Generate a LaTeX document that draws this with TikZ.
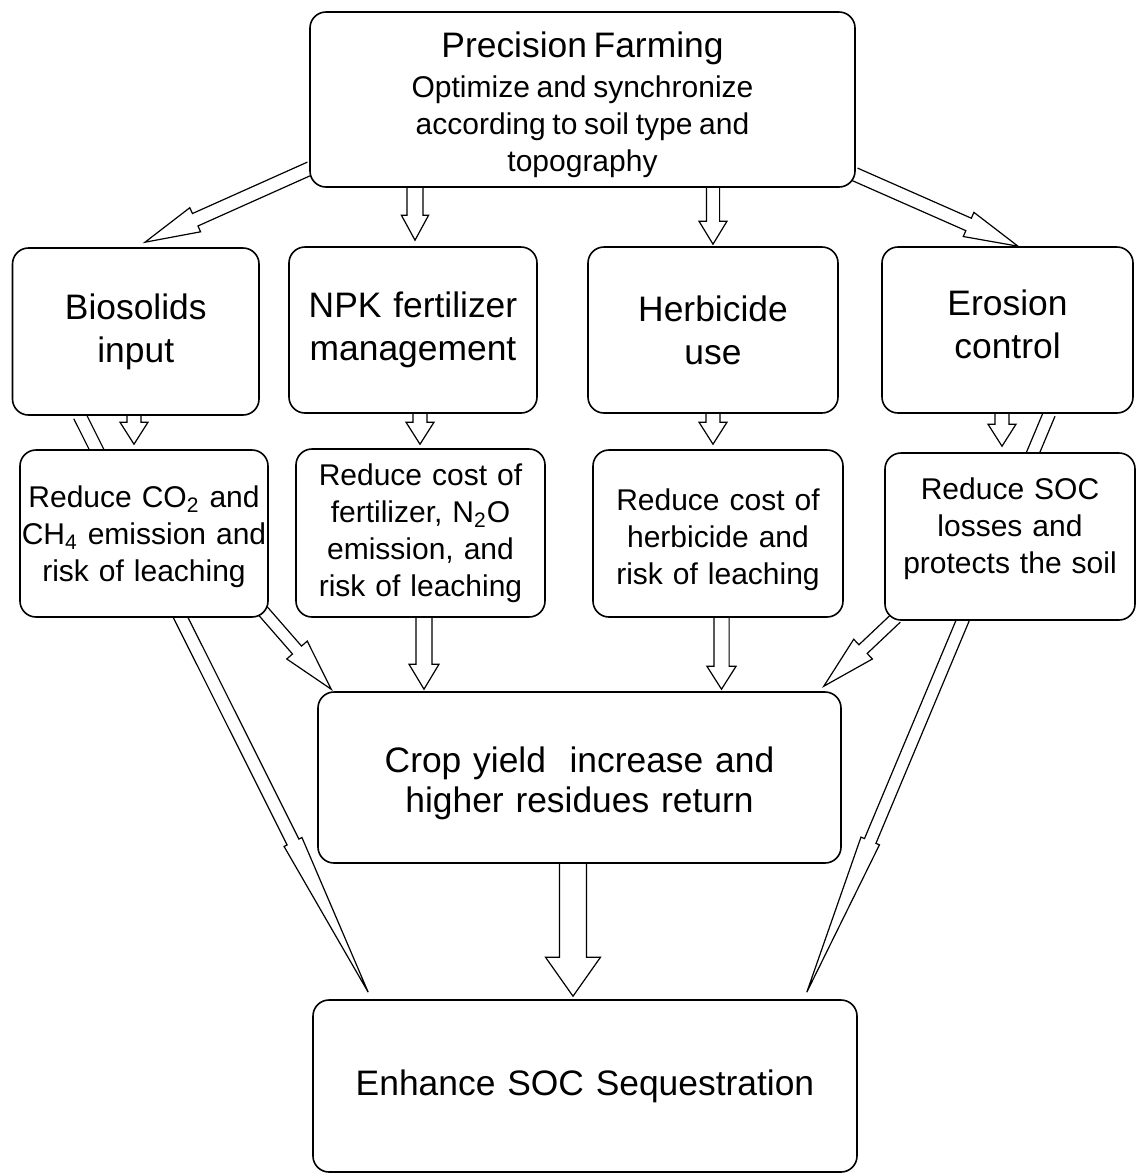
\documentclass[tikz,border=0pt]{standalone}
\usepackage{fontspec}
\setmainfont{Liberation Sans}
\usetikzlibrary{calc,backgrounds}

\tikzset{
  box/.style={draw=black, line width=0.8pt, rounded corners=8pt, fill=white,
    inner xsep=0pt, inner ysep=0pt, align=center},
  harrow/.style={draw=black, line width=0.6pt, fill=white, line join=miter},
  big/.style={font=\fontsize{17.7pt}{21.5pt}\selectfont},
  small/.style={font=\fontsize{15pt}{18.5pt}\selectfont},
}

% hollow block arrow: start, end, shaft half width, head half width, head length
\newcommand{\blockarrow}[5]{%
  \coordinate (ba-s) at (#1);
  \coordinate (ba-e) at (#2);
  \coordinate (ba-h) at ($(ba-e)!#5!(ba-s)$);
  \draw[harrow] ($(ba-s)!#3!90:(ba-e)$) -- ($(ba-h)!#3!-90:(ba-s)$)
    -- ($(ba-h)!#4!-90:(ba-s)$) -- (ba-e) -- ($(ba-h)!#4!90:(ba-s)$)
    -- ($(ba-h)!#3!90:(ba-s)$) -- ($(ba-s)!#3!-90:(ba-e)$);
}

\begin{document}
\begin{tikzpicture}[x=0.5pt,y=-0.5pt]
\useasboundingbox (0,0) rectangle (1136,1174);

% top
\node[box, text width=272.5pt, minimum height=87.5pt] (top) at (582.5,99.5)
  {{\fontsize{17.7pt}{20pt}\selectfont\rule{0pt}{17.9pt}Precision Farming\par}\vspace{1.75pt}%
   \fontsize{15pt}{18.25pt}\selectfont Optimize and synchronize\\according to soil type and\\[3.5pt]topography};

% row 2
\node[box, big, text width=123.25pt, minimum height=83.5pt] (bio) at (135.75,331.5)
  {Biosolids\\input};
\node[box, big, text width=124pt, minimum height=83pt] (npk) at (413,330)
  {NPK fertilizer\\management};
\node[box, big, text width=125pt, minimum height=83pt] (herb) at (713,330)
  {Herbicide\\use};
\node[box, big, text width=125.5pt, minimum height=83pt] (ero) at (1007.5,330)
  {Erosion\\control\rule[-6pt]{0pt}{0pt}};

% row 3
\node[box, small, text width=124pt, minimum height=83.5pt] (r1) at (144,533.5)
  {\rule{0pt}{14.4pt}Reduce CO\textsubscript{2} and\\CH\textsubscript{4} emission and\\risk of leaching};
\node[box, small, text width=124.5pt, minimum height=84pt] (r2) at (420.5,533)
  {Reduce cost of\\fertilizer, N\textsubscript{2}O\\emission, and\\risk of leaching};
\node[box, small, text width=125pt, minimum height=83.5pt] (r3) at (718,533.5)
  {\rule{0pt}{16.9pt}Reduce cost of\\herbicide and\\risk of leaching};
\node[box, small, text width=125pt, minimum height=83.5pt] (r4) at (1010,536.5)
  {Reduce SOC\\losses and\\protects the soil\rule[-11pt]{0pt}{0pt}};

% crop
\node[box, font=\fontsize{17.7pt}{20pt}\selectfont, text width=261.5pt, minimum height=85.5pt] (crop) at (579.5,777.5)
  {\rule{0pt}{18.4pt}Crop yield\ \ increase and\\higher residues return};

% enhance
\node[box, big, text width=272pt, minimum height=86pt] (enh) at (585,1086)
  {Enhance SOC Sequestration};

\begin{pgfonlayer}{background}
% from top box
\blockarrow{$(top.south west)+(1,-19.5)$}{$(bio.north)+(9.25,-5)$}{3.4pt}{6.6pt}{27.5pt}
\blockarrow{$(top.south -| npk.north)+(2,0)$}{$(npk.north)+(2,-6)$}{4pt}{6.8pt}{12.5pt}
\blockarrow{$(top.south -| herb.north)$}{$(herb.north)+(0,-2)$}{3.3pt}{7pt}{11.5pt}
\blockarrow{$(top.south east)+(-1,-13.5)$}{$(ero.north)+(10.5,0)$}{3.4pt}{6.6pt}{27pt}
% row 2 -> row 3
\blockarrow{$(bio.south)+(-1.75,0)$}{$(r1.north)+(-10,-5)$}{3.5pt}{7pt}{11pt}
\blockarrow{$(npk.south)+(7,0)$}{$(r2.north)+(-0.5,-4)$}{3.5pt}{7pt}{11pt}
\blockarrow{$(herb.south)$}{$(r3.north)+(-5,-5)$}{3.5pt}{7pt}{11pt}
\blockarrow{$(ero.south)+(-5.5,0)$}{$(r4.north)+(-8,-6)$}{3.5pt}{7pt}{11pt}
% row 3 -> crop
\blockarrow{$(r1.south east)+(-6,-7)$}{$(crop.north west)+(14,-2)$}{3pt}{6.8pt}{26pt}
\blockarrow{$(r2.south)+(3.5,0)$}{$(crop.north)+(-155.5,-2)$}{4pt}{7.5pt}{12.5pt}
\blockarrow{$(r3.south)+(3.5,0)$}{$(crop.north)+(142,-2)$}{3.8pt}{7.3pt}{11.5pt}
\blockarrow{$(r4.south west)+(12,-3)$}{$(crop.north east)+(-18,-5)$}{3pt}{6.8pt}{27pt}
% long arrows to enhance
\blockarrow{$(bio.south west)+(68,0)$}{$(enh.north west)+(56,-7)$}{3.3pt}{5pt}{84pt}
\blockarrow{$(ero.south east)+(-84.5,0)$}{$(enh.north east)+(-51,-7)$}{3.1pt}{5pt}{82pt}
\blockarrow{$(crop.south)+(-6.5,0)$}{$(enh.north)+(-12,-3)$}{6.75pt}{13.75pt}{19.5pt}
\end{pgfonlayer}
\end{tikzpicture}
\end{document}
